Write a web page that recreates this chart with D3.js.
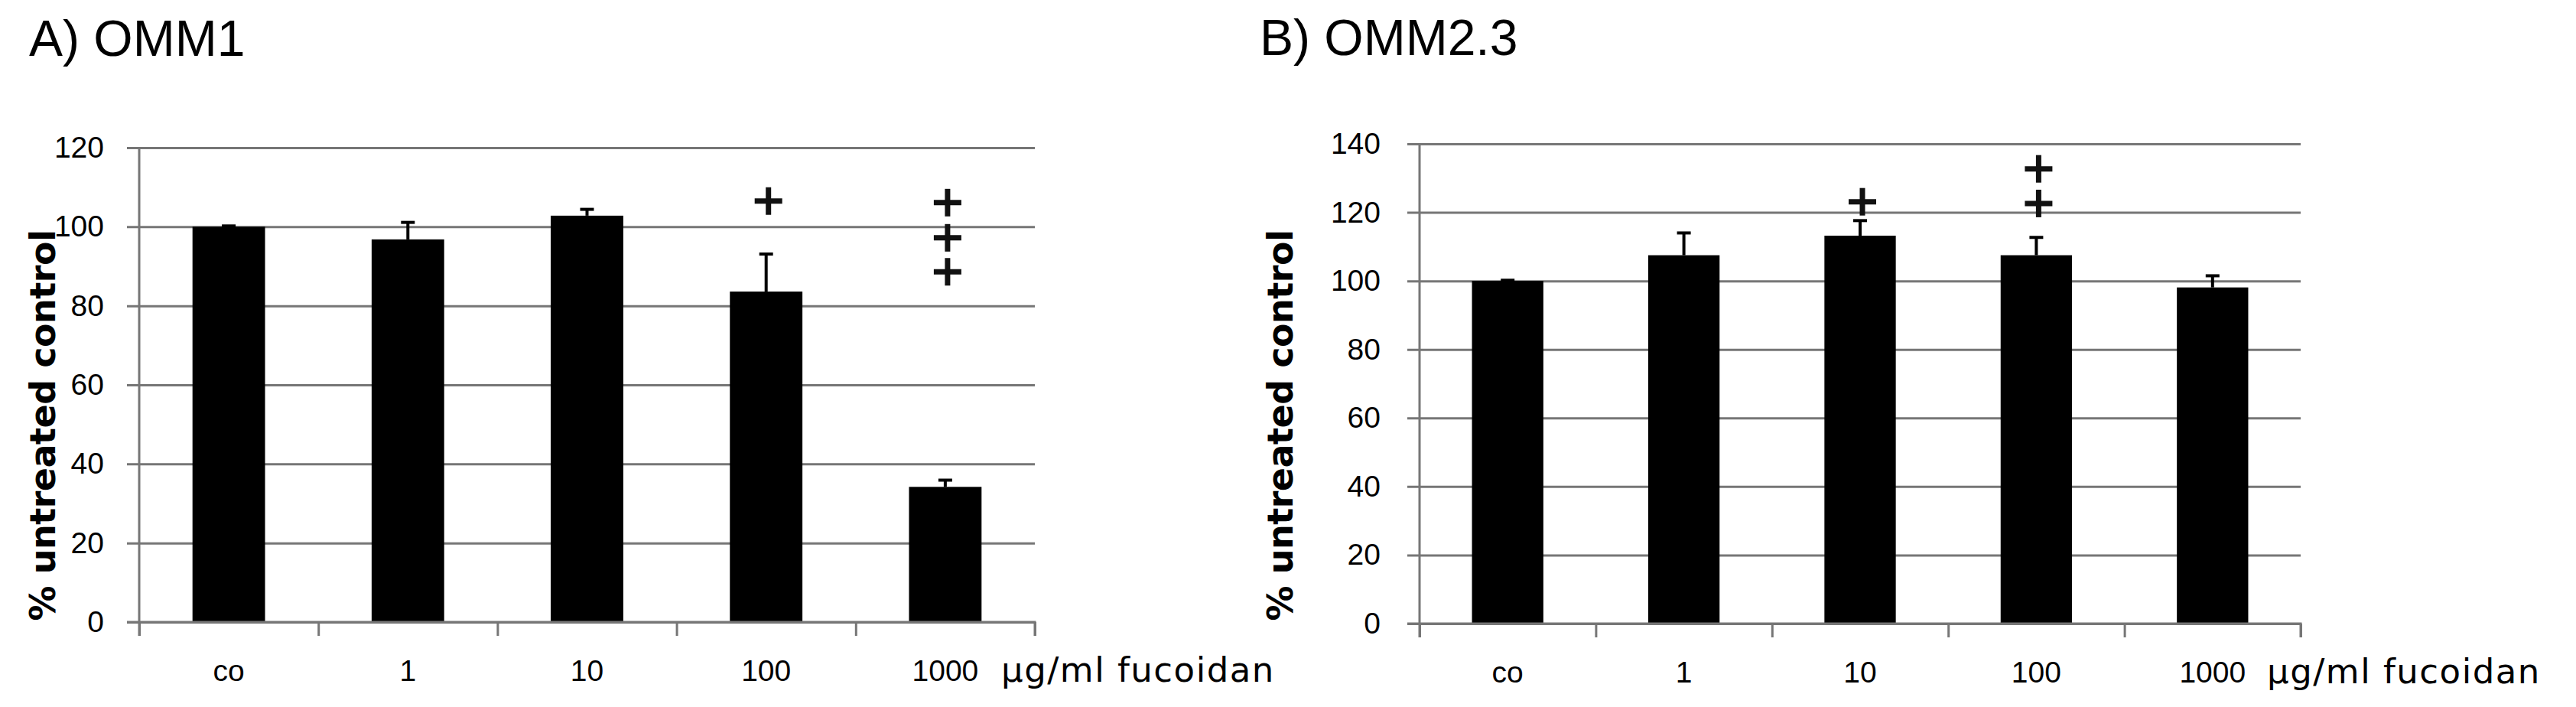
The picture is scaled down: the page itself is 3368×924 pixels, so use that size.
<!DOCTYPE html>
<html lang="en">

<head>
    <meta charset="UTF-8">
    <title>OMM1 / OMM2.3 fucoidan</title>
    <script src="https://d3js.org/d3.v7.min.js"></script>
    <style>
        html, body { margin: 0; padding: 0; background: #fff; }
        svg { display: block; }
    </style>
</head>

<body>
    <svg width="3368" height="924" class="block"></svg>
</body>

<script>
    // categories along x (fucoidan dose)
    var categories = ['co', '1', '10', '100', '1000'];

    // y tick values for each panel
    var yTicksA = [0, 20, 40, 60, 80, 100, 120];
    var yTicksB = [0, 20, 40, 60, 80, 100, 120, 140];

    // A) OMM1 : mean and upper error
    var meanA = [100, 96.8, 102.8, 83.6, 34.2];
    var errA = [0.2, 4.3, 1.6, 9.5, 1.7];
    // significance crosses (value where each + sits)
    var plusA = [[], [], [], [106.5], [106.1, 97.2, 88.6]];

    // B) OMM2.3
    var meanB = [100, 107.5, 113.2, 107.5, 98.1];
    var errB = [0.2, 6.5, 4.4, 5.2, 3.4];
    var plusB = [[], [], [123.1], [132.7, 122.6], []];

    var titles = ['A) OMM1', 'B) OMM2.3'];
    var yLabel = '% untreated control';
    var unitLabel = 'µg/ml fucoidan';

    var svg = d3.select('.block');
    var gridColor = '#767676';

    function drawPanel(p) {
        var g = svg.append('g');

        // band scale, bars about 0.4 of a category
        var x = d3.scaleBand().domain(categories)
            .range([p.left, p.right])
            .paddingInner(0.595).paddingOuter(0.2975);
        var y = d3.scaleLinear().domain([0, p.yMax]).range([p.bottom, p.top]);

        // gridlines (stick out a bit to the left of the y axis)
        var grid = g.append('g')
            .attr('transform', 'translate(' + p.left + ',0)')
            .call(d3.axisLeft(y).tickValues(p.ticks).tickSize(-(p.right - p.left)).tickFormat(''));
        grid.select('.domain').remove();
        grid.selectAll('line').attr('x1', -16).attr('stroke', gridColor).attr('stroke-width', 3);

        // y tick labels
        var yl = g.append('g')
            .attr('transform', 'translate(' + p.left + ',0)')
            .call(d3.axisLeft(y).tickValues(p.ticks).tickSize(0).tickPadding(p.left - p.labelRight));
        yl.select('.domain').remove();
        yl.selectAll('text').attr('font-family', 'Liberation Sans, Arial, sans-serif')
            .attr('font-size', 39).attr('fill', '#000');

        // bars
        g.selectAll('rect.bar')
            .data(p.mean)
            .enter()
            .append('rect')
            .attr('class', 'bar')
            .attr('x', function (d, i) { return x(categories[i]); })
            .attr('y', function (d) { return y(d); })
            .attr('width', x.bandwidth())
            .attr('height', function (d) { return y(0) - y(d); })
            .attr('fill', '#000');

        // upper error bars with cap
        var eb = g.selectAll('g.err')
            .data(p.mean)
            .enter()
            .append('g')
            .attr('class', 'err')
            .attr('stroke', '#000')
            .attr('stroke-width', 4);
        eb.append('line')
            .attr('x1', function (d, i) { return x(categories[i]) + x.bandwidth() / 2; })
            .attr('x2', function (d, i) { return x(categories[i]) + x.bandwidth() / 2; })
            .attr('y1', function (d) { return y(d); })
            .attr('y2', function (d, i) { return y(d + p.err[i]); });
        eb.append('line')
            .attr('x1', function (d, i) { return x(categories[i]) + x.bandwidth() / 2 - 9; })
            .attr('x2', function (d, i) { return x(categories[i]) + x.bandwidth() / 2 + 9; })
            .attr('y1', function (d, i) { return y(d + p.err[i]); })
            .attr('y2', function (d, i) { return y(d + p.err[i]); });

        // + markers
        var marks = [];
        p.plus.forEach(function (vals, i) {
            vals.forEach(function (v) { marks.push({ c: categories[i], v: v }); });
        });
        var pm = g.selectAll('g.plus')
            .data(marks)
            .enter()
            .append('g')
            .attr('class', 'plus')
            .attr('transform', function (d) {
                return 'translate(' + (x(d.c) + x.bandwidth() / 2 + 3) + ',' + y(d.v) + ')';
            })
            .attr('stroke', '#111')
            .attr('stroke-width', 7);
        pm.append('line').attr('x1', -18).attr('x2', 18);
        pm.append('line').attr('y1', -18).attr('y2', 18);

        // x axis with ticks between categories
        var xb = d3.scaleLinear().domain([0, categories.length]).range([p.left, p.right]);
        var xa = g.append('g')
            .attr('transform', 'translate(0,' + p.bottom + ')')
            .call(d3.axisBottom(xb).ticks(categories.length).tickSize(18).tickFormat(''));
        xa.select('.domain').attr('stroke', gridColor).attr('stroke-width', 3)
            .attr('d', 'M' + (p.left - 16) + ',0H' + p.right + 'V18');
        xa.selectAll('line').attr('stroke', gridColor).attr('stroke-width', 3);

        // y axis line
        g.append('line')
            .attr('x1', p.left).attr('x2', p.left)
            .attr('y1', y(p.yMax)).attr('y2', y(0) + 18)
            .attr('stroke', gridColor).attr('stroke-width', 3);

        // category labels
        var xl = g.append('g')
            .attr('transform', 'translate(0,' + p.bottom + ')')
            .call(d3.axisBottom(x).tickSize(0).tickPadding(49));
        xl.select('.domain').remove();
        xl.selectAll('text').attr('font-family', 'Liberation Sans, Arial, sans-serif')
            .attr('font-size', 39).attr('fill', '#000');

        // unit label
        g.append('text')
            .attr('x', p.right - 44)
            .attr('y', p.bottom + 78)
            .attr('font-family', 'DejaVu Sans, sans-serif')
            .attr('font-size', 45)
            .attr('letter-spacing', 1.5)
            .text(unitLabel);

        // y axis title
        g.append('text')
            .attr('transform', 'translate(' + p.yLabelX + ',556) rotate(-90)')
            .attr('text-anchor', 'middle')
            .attr('font-family', 'DejaVu Sans, sans-serif')
            .attr('font-weight', 'bold')
            .attr('font-size', 46)
            .attr('letter-spacing', -0.5)
            .text(yLabel);

        // panel title
        g.append('text')
            .attr('x', p.titleX)
            .attr('y', p.titleY)
            .attr('font-family', 'Liberation Sans, Arial, sans-serif')
            .attr('font-size', 66)
            .text(p.title);
    }

    drawPanel({
        title: titles[0], mean: meanA, err: errA, plus: plusA, ticks: yTicksA, yMax: 120,
        left: 182, right: 1353, top: 193, bottom: 813,
        labelRight: 136, yLabelX: 72, titleX: 38, titleY: 73
    });

    drawPanel({
        title: titles[1], mean: meanB, err: errB, plus: plusB, ticks: yTicksB, yMax: 140,
        left: 1856, right: 3008, top: 188, bottom: 815,
        labelRight: 1805, yLabelX: 1690, titleX: 1647, titleY: 72
    });
</script>

</html>
